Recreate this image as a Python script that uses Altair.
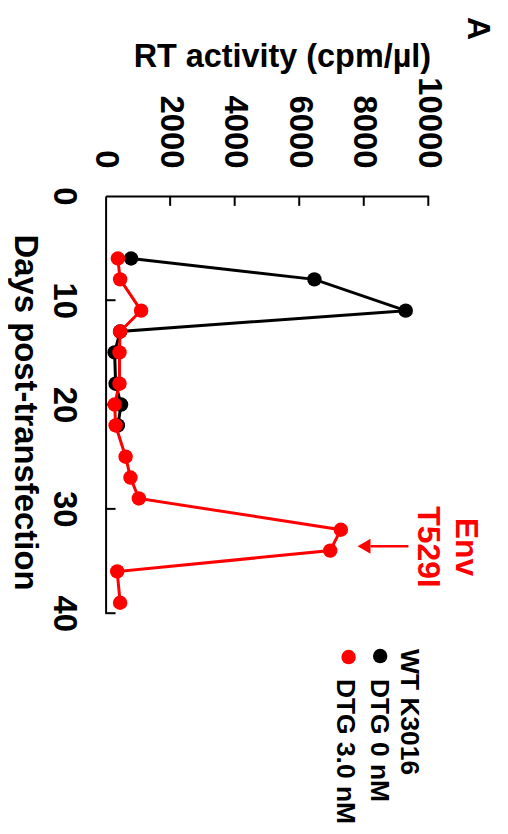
import altair as alt
import pandas as pd

# ---- data ----
days_wt = [6, 8, 11, 13, 15, 18, 20, 22]
rt_wt = [790, 6470, 9300, 450, 280, 310, 480, 380]
days_dtg = [6, 8, 11, 13, 15, 18, 20, 22, 25, 27, 29, 32, 34, 36, 39]
rt_dtg = [380, 450, 1100, 450, 430, 430, 280, 310, 620, 770, 1030, 7290, 6960, 360, 450]
rt_ticks = [0, 2000, 4000, 6000, 8000, 10000]
day_ticks = [0, 10, 20, 30, 40]
legend_title = "WT K3016"
series_names = ["DTG 0 nM", "DTG 3.0 nM"]
series_colors = ["#000000", "#ff0000"]
annot_lines = ["Env", "T529I"]
panel_label = "A"

FONT = "Liberation Sans"

wt = pd.DataFrame({"day": days_wt, "rt": rt_wt})
dtg = pd.DataFrame({"day": days_dtg, "rt": rt_dtg})
xt = pd.DataFrame({"rt": rt_ticks[1:]})
yt = pd.DataFrame({"day": day_ticks[1:]})
one = pd.DataFrame({"k": [0]})

x_scale = alt.Scale(domain=[0, 10000], nice=False)
y_scale = alt.Scale(domain=[0, 40], nice=False, reverse=True)

x_axis = alt.Axis(
    orient="top", values=rt_ticks, format="d", grid=False,
    ticks=False, tickSize=0,
    labelAngle=90, labelAlign="right", labelBaseline="middle",
    labelPadding=28, labelFontSize=33, labelFont=FONT, labelFontWeight="bold",
    labelColor="black", labelFlush=False, labelOverlap=False,
    domainColor="black", domainWidth=2,
    title="RT activity (cpm/µl)", titleFont=FONT, titleFontSize=32.5,
    titleFontWeight="bold", titleColor="black",
    titleX=177, titleY=-130, titleAngle=0, titleAlign="center",
    titleBaseline="alphabetic",
)
y_axis = alt.Axis(
    orient="left", values=day_ticks, format="d", grid=False,
    ticks=False, tickSize=0,
    labelAngle=90, labelAlign="center", labelBaseline="top",
    labelPadding=26, labelFontSize=33, labelFont=FONT, labelFontWeight="bold",
    labelColor="black", labelFlush=False, labelOverlap=False,
    domainColor="black", domainWidth=2,
    title="Days post-transfection", titleFont=FONT, titleFontSize=33,
    titleFontWeight="bold", titleColor="black",
    titleX=-91, titleY=217, titleAngle=90, titleAlign="center",
    titleBaseline="alphabetic",
)

X = alt.X("rt:Q", scale=x_scale, axis=x_axis)
Y = alt.Y("day:Q", scale=y_scale, axis=y_axis)

def series(df, color):
    base = alt.Chart(df).encode(x=X, y=Y)
    return [
        base.mark_line(color=color, strokeWidth=3).encode(order=alt.Order("day:Q")),
        base.mark_circle(color=color, size=210, opacity=1),
    ]

xticks = alt.Chart(xt).mark_rule(color="black", strokeWidth=2).encode(
    x=X, y=alt.value(0), y2=alt.value(10))
yticks = alt.Chart(yt).mark_rule(color="black", strokeWidth=2).encode(
    y=Y, x=alt.value(0), x2=alt.value(10))

def txt(text, x, y, size, color, align="left"):
    return alt.Chart(one).mark_text(
        text=text, angle=90, align=align, baseline="alphabetic",
        font=FONT, fontWeight="bold", fontSize=size, color=color,
    ).encode(x=alt.value(x), y=alt.value(y))

def dot(x, y, color):
    return alt.Chart(one).mark_circle(color=color, size=210, opacity=1).encode(
        x=alt.value(x), y=alt.value(y))

arrow_line = alt.Chart(one).mark_rule(color="#ff0000", strokeWidth=2.5).encode(
    x=alt.value(266), x2=alt.value(304), y=alt.value(351.7))
arrow_head = alt.Chart(one).mark_point(
    shape="triangle-left", filled=True, size=225, color="#ff0000", opacity=1
).encode(x=alt.value(259.5), y=alt.value(351.7))

layers = (
    [xticks, yticks]
    + series(wt, series_colors[0])
    + series(dtg, series_colors[1])
    + [
        arrow_line, arrow_head,
        txt(annot_lines[0], 352, 352.5, 32, "#ff0000", "center"),
        txt(annot_lines[1], 314, 352.5, 32, "#ff0000", "center"),
        txt(legend_title, 297, 455, 26.5, "black"),
        dot(275.7, 462, series_colors[0]),
        txt(series_names[0], 266, 485, 26.5, "black"),
        dot(244, 463, series_colors[1]),
        txt(series_names[1], 232, 485, 26.5, "black"),
        txt(panel_label, 364, -168, 32, "black", "center"),
    ]
)

chart = alt.layer(*layers).properties(
    width=324, height=419,
    autosize=alt.AutoSizeParams(type="none"),
    padding={"left": 98, "top": 187, "right": 72, "bottom": 212},
).configure_view(strokeWidth=0)

chart.save("out.html", embed_options={"renderer": "svg", "actions": False})
